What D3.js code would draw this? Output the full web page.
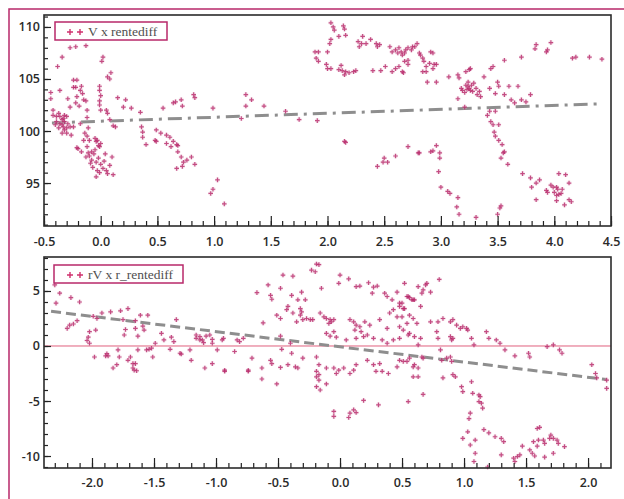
<!DOCTYPE html>
<html>
<head>
<meta charset="utf-8">
<script src="https://cdn.jsdelivr.net/npm/d3@7"></script>
<style>
  body { margin: 0; background: #fff; }
  svg { display: block; }
</style>
</head>
<body>
<svg id="chart" width="624" height="499"></svg>
<script>
// top panel: V x rentediff
var topPts = [
  [-0.27,108.0],[-0.22,108.1],[-0.13,108.2],[-0.34,107.1],[-0.38,106.2],[-0.44,103.7],[-0.44,103.1],[-0.36,103.9],[-0.42,102.0],
  [-0.42,101.5],[-0.39,101.4],[-0.37,101.7],[-0.36,101.4],[-0.34,101.1],[-0.33,101.2],[-0.32,101.5],[-0.30,101.4],[-0.39,100.9],
  [-0.36,100.7],[-0.34,100.6],[-0.33,100.4],[-0.32,100.1],[-0.30,100.3],[-0.29,100.7],[-0.27,100.4],[-0.37,100.3],[-0.30,99.8],
  [-0.26,99.6],[-0.34,99.8],[-0.32,100.9],[-0.40,100.6],
  [-0.24,104.9],[-0.21,104.9],[-0.24,104.2],[-0.17,104.3],[-0.16,103.6],[-0.21,103.3],[-0.29,103.1],[-0.27,102.3],[-0.19,102.4],
  [-0.13,102.9],[-0.12,102.0],[-0.12,101.3],[-0.22,104.2],[-0.18,103.9],[-0.15,103.0],[-0.22,102.7],
  [-0.24,100.4],[-0.18,100.7],[-0.14,99.8],[-0.12,99.5],[-0.11,100.3],[-0.10,99.1],[-0.05,99.3],[-0.04,99.0],[-0.01,98.5],[-0.15,99.1],
  [0.02,107.1],[0.01,106.7],[0.06,105.2],[0.09,105.6],[0.08,105.0],[-0.01,104.3],[-0.01,103.9],[-0.01,102.9],[0.0,103.4],[-0.01,102.5],[0.0,102.0],
  [0.11,100.5],[0.13,100.4],[0.05,102.0],[0.06,101.7],[0.08,101.1],[0.15,103.2],[0.22,103.0],[0.20,102.3],[0.27,102.2],[0.35,101.8],
  [-0.20,98.3],[-0.17,98.0],[-0.11,97.9],[-0.08,97.2],[-0.06,97.8],[-0.04,97.0],[-0.07,96.5],[-0.02,97.4],[-0.05,98.2],[0.0,96.8],
  [-0.10,97.6],[-0.09,96.9],[0.03,97.1],[0.05,96.2],[0.06,95.9],[-0.03,96.2],[-0.01,96.0],[-0.04,95.6],[0.02,96.4],[0.08,96.7],
  [0.11,95.8],[0.10,97.5],[0.0,98.8],[-0.03,99.1],[-0.21,98.4],[-0.12,98.5],[-0.02,98.6],[-0.08,98.0],[-0.13,97.5],[0.04,97.8],
  [0.36,100.4],[0.37,99.9],[0.37,99.4],[0.49,100.1],[0.48,99.1],[0.53,99.8],[0.58,99.6],[0.61,99.4],[0.64,99.0],[0.68,98.6],
  [0.55,102.2],[0.64,102.7],[0.66,102.8],[0.71,103.0],[0.72,102.4],[0.82,103.5],[0.83,103.2],[0.99,102.2],[0.40,98.7],[0.49,99.0],
  [0.58,98.8],[0.62,98.5],[0.67,98.7],[0.68,98.0],[0.71,97.5],[0.73,97.0],[0.72,96.6],[0.67,96.4],[0.76,97.2],[0.80,97.5],[0.83,96.8],
  [1.03,95.3],[0.99,94.4],[0.97,94.0],[1.09,93.0],
  [1.28,103.5],[1.33,103.0],[1.28,102.4],[1.44,102.4],[1.24,101.2],[1.63,101.9],[1.75,101.1],[1.91,101.0],[2.16,98.9],
  [2.03,110.4],[2.05,110.0],[2.14,110.1],[2.15,109.8],[2.06,109.7],[2.10,109.1],[2.16,109.2],[2.02,108.4],[2.03,108.8],[2.00,107.6],
  [1.89,107.6],[1.92,107.6],[1.90,107.0],[1.92,106.7],[1.99,106.4],[2.00,106.0],[2.03,106.0],[2.12,106.3],[2.10,105.9],[2.13,105.8],
  [2.16,105.7],[2.15,105.4],[2.19,105.6],[2.23,105.7],[2.25,105.8],[2.40,105.8],[2.47,105.8],[2.51,106.2],[2.57,105.7],[2.60,106.0],
  [2.63,106.2],[2.67,105.6],
  [2.27,108.6],[2.28,108.1],[2.31,109.1],[2.30,108.4],[2.34,108.4],[2.38,108.8],[2.43,108.4],[2.44,108.1],[2.46,108.3],[2.55,108.1],
  [2.57,107.6],[2.60,107.8],[2.62,107.5],[2.63,108.0],[2.65,107.6],[2.66,107.3],[2.69,107.8],[2.71,106.8],[2.75,108.1],[2.79,108.4],[2.81,107.5],
  [2.68,107.5],[2.71,108.0],[2.74,107.8],[2.77,108.1],[2.68,106.7],[2.71,106.4],[2.66,105.7],[2.82,107.3],[2.84,107.0],[2.85,106.7],
  [2.87,106.2],[2.84,105.7],[2.87,105.7],[2.91,107.6],[2.93,107.5],[2.90,106.5],[2.94,106.4],[2.93,106.0],[2.96,106.4],[2.88,104.7],[2.96,104.7],
  [3.07,105.2],[3.15,105.4],[3.16,105.1],[3.22,105.7],[3.25,105.9],[3.26,106.0],[3.18,104.1],[3.19,103.9],[3.22,104.4],[3.24,104.3],
  [3.25,104.1],[3.26,103.9],[3.29,104.6],[3.31,104.1],[3.34,103.8],[3.35,103.3],[3.32,103.5],[3.38,105.2],[3.44,106.0],[3.43,104.1],
  [3.50,104.7],[3.51,104.3],[3.48,103.6],[3.56,103.5],[3.60,104.3],[3.68,104.3],[3.62,103.0],[3.65,102.7],[3.71,103.0],[3.75,102.8],
  [3.79,103.5],[3.15,103.1],[3.21,102.3],[3.41,101.5],[3.43,101.9],[3.48,101.9],[3.44,100.9],[3.46,100.6],[3.51,100.6],[3.47,99.9],
  [3.48,99.5],[3.51,99.1],[3.54,98.7],[3.23,104.0],[3.27,104.4],[3.21,103.7],[3.28,103.8],[3.24,104.7],
  [3.56,106.8],[3.71,107.1],[3.84,108.3],[3.83,107.9],[3.94,107.8],[3.97,108.5],[3.93,107.6],[4.16,107.0],[4.19,107.1],[4.31,107.1],
  [4.42,106.9],[3.46,106.2],
  [2.71,98.5],[2.81,97.9],[2.91,98.0],[2.93,98.1],[2.96,98.6],[2.99,97.9],[2.99,97.4],[2.98,96.1],[3.00,94.6],[3.06,94.2],[3.08,94.0],
  [3.15,93.6],[3.14,92.7],[3.16,92.0],[3.31,91.7],[3.50,92.0],[3.52,92.6],[3.53,92.8],[3.55,97.9],[3.56,98.0],[3.53,97.4],[3.59,96.8],
  [3.72,95.9],[3.79,95.5],[3.84,95.0],[3.87,95.3],[3.80,94.6],[3.84,93.4],
  [3.93,94.3],[3.94,94.1],[3.97,94.8],[3.99,94.6],[4.02,94.6],[4.03,94.4],[4.00,94.1],[4.02,93.8],[4.04,93.9],[4.06,94.0],[4.07,94.4],
  [4.02,93.3],[4.09,92.9],[4.13,93.4],[4.15,93.2],[4.04,95.9],[4.10,95.8],[4.13,95.0],
  [2.44,96.6],[2.49,97.0],[2.50,97.4],[2.53,97.0],[2.60,97.6],[2.80,97.9],[2.15,99.0]
];
var topFit = [[-0.43,100.78],[4.38,102.6]];

// bottom panel: rV x r_rentediff
var botPts = [
  [-2.30,5.55],[-2.29,3.9],[-2.26,4.8],[-2.17,4.4],[-2.10,4.0],[-2.20,1.6],[-2.18,1.9],[-2.15,2.0],[-2.12,2.3],[-2.04,0.5],
  [-2.03,0.8],[-2.02,1.3],[-2.02,0.25],[-1.98,-1.0],[-1.97,1.45],[-1.99,2.7],[-1.96,2.5],[-1.92,3.0],[-1.85,3.1],[-1.88,-0.7],
  [-1.89,-0.9],[-1.87,-0.9],[-1.83,-2.0],[-1.80,-1.7],[-1.79,-0.35],[-1.78,-1.0],[-1.77,3.2],[-1.71,3.4],[-1.75,2.4],[-1.73,1.5],
  [-1.74,1.0],[-1.71,-1.3],[-1.69,-1.0],[-1.67,-1.6],[-1.65,-1.6],[-1.67,-2.0],[-1.64,-2.25],[-1.66,-2.2],[-1.65,2.3],[-1.65,1.6],
  [-1.63,0.9],[-1.63,-0.35],[-1.61,2.8],[-1.59,1.8],[-1.58,1.45],[-1.56,-0.35],[-1.54,-0.3],[-1.52,-0.2],[-1.51,-1.0],[-1.55,2.8],
  [-1.49,0.25],[-1.44,1.15],[-1.42,0.55],[-1.37,-0.3],[-1.36,0.8],[-1.34,0.4],[-1.32,2.4],[-1.29,-0.66],[-1.28,-0.73],[-1.21,-0.35],
  [-1.20,-1.3],[-1.16,1.0],[-1.16,0.7],[-1.13,0.55],[-1.11,0.55],[-1.08,0.9],[-1.03,0.6],[-1.10,0.3],[-1.03,0.25],[-1.09,-2.0],
  [-1.13,0.85],[-1.05,1.0],[-0.95,0.55],[-0.94,0.7],[-0.83,0.55],[-0.81,0.4],[-0.78,0.7],[-0.62,2.1],[-0.48,0.9],[-0.47,-0.3],[-0.40,0.25],
  [-1.03,-1.6],[-0.99,-0.35],[-0.93,-2.2],[-0.85,-0.5],[-0.74,-2.2],[-0.71,-1.1],[-0.63,-2.0],[-0.56,-1.3],[-0.55,-1.6],[-0.48,-1.95],
  [-0.42,-1.7],[-0.39,-0.66],[-0.36,-1.9],[-0.34,-2.0],[-0.30,-1.1],[-0.19,-1.0],[-0.17,-1.7],[-0.17,-2.6],[-0.11,-2.0],[-0.05,-2.0],
  [-0.01,-2.2],[0.03,-2.0],[0.08,-2.5],[0.13,-1.7],[0.22,-1.3],[0.27,-1.7],[0.32,-1.6],[0.34,-2.3],[0.39,-2.5],[0.46,-1.9],[0.48,-1.3],
  [0.54,-1.4],[0.59,-1.9],
  [-0.19,-2.3],[-0.19,-2.8],[-0.17,-3.1],[-0.19,-3.7],[-0.16,-4.0],[-0.11,-3.45],[-0.03,-2.5],[0.11,-2.2],[-0.05,-5.95],[-0.05,-6.4],
  [0.08,-6.1],[0.07,-6.5],[0.11,-5.8],[0.13,-6.05],[0.19,-4.95],[0.31,-5.35],[0.55,-5.05],[0.29,-2.3],[-0.63,-3.0],[-0.51,-3.45],
  [-0.74,-2.3],[-0.93,-2.3],
  [-0.19,7.45],[-0.17,7.4],[-0.23,6.9],[-0.20,6.75],[-0.46,6.45],[-0.38,6.35],[-0.58,5.55],[-0.56,4.6],[-0.55,4.25],[-0.67,4.85],
  [-0.48,5.25],[-0.39,4.6],[-0.31,4.9],[-0.28,4.2],[-0.34,4.2],[-0.15,5.25],[0.0,6.45],[-0.01,5.7],[0.07,6.1],[0.16,5.45],[0.13,5.4],
  [0.23,5.75],[0.27,5.35],[0.30,5.45],[0.26,4.8],[0.36,4.8],[0.38,4.5],[0.46,4.9],[0.52,5.7],[0.56,4.4],[0.59,4.2],[0.42,4.2],[0.48,3.9],
  [-0.42,3.6],[-0.43,3.3],[-0.38,3.0],[-0.32,3.4],[-0.32,2.8],[-0.31,3.1],[-0.27,2.5],[-0.24,2.4],[-0.22,2.4],[-0.30,2.4],[-0.35,2.2],
  [-0.48,2.5],[-0.51,2.8],
  [-0.16,3.0],[-0.13,2.65],[-0.11,2.5],[-0.08,2.4],[-0.07,2.2],[-0.05,2.4],[-0.09,2.05],[-0.11,1.15],[-0.08,0.9],[-0.05,1.3],[-0.03,0.8],
  [0.08,2.4],[0.11,2.2],[0.13,1.9],[0.16,1.75],[0.12,1.45],[0.17,1.3],[0.20,2.2],[0.24,1.9],[0.22,1.0],[0.19,0.85],[0.13,0.7],
  [0.05,0.55],[0.27,0.7],[0.34,0.55],[0.38,0.25],[0.43,0.55],[0.48,0.7],[0.56,1.15],[0.62,2.05],[0.54,2.05],[0.48,1.75],[0.38,1.6],
  [0.32,2.4],[0.43,3.3],[0.40,3.0],[0.46,2.65],[0.51,3.4],[0.56,2.8],[0.59,2.5],[0.48,3.6],[0.54,4.5],
  [0.63,5.4],[0.66,4.8],[0.67,5.1],[0.69,5.55],[0.70,5.7],[0.73,4.9],[0.80,6.05],[0.50,3.9],[0.52,3.4],[0.55,4.5],[0.58,4.2],
  [0.60,4.2],[0.65,3.6],
  [0.50,2.65],[0.51,1.45],[0.55,1.0],[0.60,0.85],[0.65,0.7],[0.63,0.1],[0.73,2.2],[0.79,2.2],[0.83,2.5],[0.89,2.2],[0.91,2.4],
  [0.94,1.9],[0.97,1.6],[0.99,1.75],[1.02,1.6],[1.03,1.45],[0.78,1.3],[0.79,0.7],[0.89,0.85],[0.90,0.55],[0.91,0.7],[1.06,0.7],
  [1.08,0.1],[1.18,1.3],[1.20,0.7],[1.26,0.55],[1.29,0.25],[1.33,-0.35],[1.41,-0.9],[1.52,-0.66],[1.53,-1.0],[1.67,-0.06],[1.72,0.1],
  [1.77,-0.35],[1.79,-0.66],[2.03,-1.7],[2.06,-2.5],[2.15,-3.1],
  [0.51,-1.4],[0.56,-1.1],[0.60,-1.7],[0.63,-2.0],[0.66,-1.0],[0.67,-1.1],[0.81,-0.35],[0.82,-1.3],[0.86,-1.1],[0.89,-1.0],
  [0.90,-1.4],[0.91,-2.6],[0.93,-2.8],[0.59,-2.8],[0.63,-2.8],[0.83,-2.9],
  [0.67,-4.4],[0.98,-3.7],[0.99,-4.15],[1.06,-3.25],[1.07,-4.3],[1.12,-4.45],[1.13,-4.6],[1.12,-5.05],[1.14,-5.2],[1.15,-5.65],
  [1.05,-6.1],[1.04,-6.6],[1.16,-7.6],[1.20,-7.9],[1.25,-8.25],[1.30,-8.4],[1.32,-8.7],[1.30,-9.9],[0.99,-8.4],[1.03,-7.8],
  [1.05,-9.0],[1.09,-8.55],[1.09,-9.75],[1.08,-10.5],[1.19,-11.0],[1.40,-10.2],[1.43,-10.05],[1.41,-10.5],[1.45,-9.9],[1.47,-9.1],
  [1.53,-9.45],[1.55,-9.75],[1.57,-10.0],[1.59,-7.5],[1.61,-7.4],[1.56,-8.7],[1.60,-8.55],[1.59,-9.1],[1.64,-8.55],[1.65,-8.85],
  [1.69,-8.4],[1.70,-8.1],[1.72,-8.4],[1.75,-8.55],[1.76,-8.85],[1.72,-9.75],[1.65,-10.1],[1.81,-9.15],[2.07,-2.9],[2.15,-3.85]
];
var botFit = [[-2.33,3.15],[2.15,-3.05]];

var topXTicks = [-0.5,0.0,0.5,1.0,1.5,2.0,2.5,3.0,3.5,4.0,4.5];
var topYTicks = [95,100,105,110];
var botXTicks = [-2.0,-1.5,-1.0,-0.5,0.0,0.5,1.0,1.5,2.0];
var botYTicks = [-10,-5,0,5];
var legends = ["V x rentediff", "rV x r_rentediff"];

var svg = d3.select("#chart");
var pink = "#b8286a";

svg.append("rect").attr("x", 9).attr("y", 9).attr("width", 700).attr("height", 600)
    .attr("fill", "#fff").attr("stroke", pink).attr("stroke-width", 1.5);

function range(a, b, step) {
    var out = [];
    for (var v = a; v <= b + 1e-9; v += step) out.push(Math.round(v * 100) / 100);
    return out;
}

function panel(opt) {
    var g = svg.append("g");
    var x = d3.scaleLinear().domain(opt.xDomain).range([opt.left, opt.right]);
    var y = d3.scaleLinear().domain(opt.yDomain).range([opt.bottom, opt.top]);

    g.append("rect").attr("x", opt.left).attr("y", opt.top)
        .attr("width", opt.right - opt.left).attr("height", opt.bottom - opt.top)
        .attr("fill", "#fff");

    if (opt.zero) {
        g.append("line").attr("x1", opt.left).attr("x2", opt.right)
            .attr("y1", y(0)).attr("y2", y(0))
            .attr("stroke", "#e0607e").attr("stroke-width", 1);
    }

    // fit line
    g.append("path").datum(opt.fit)
        .attr("d", d3.line().x(d => x(d[0])).y(d => y(d[1])))
        .attr("fill", "none").attr("stroke", "#8e8e8e").attr("stroke-width", 3)
        .attr("stroke-dasharray", opt.dash);

    // plus markers, with a faint halo under each
    var s = 2.3;
    var plus = d => {
        var px = x(d[0]), py = y(d[1]);
        return "M" + (px - s) + "," + py + "H" + (px + s) + "M" + px + "," + (py - s) + "V" + (py + s);
    };
    g.append("g").selectAll("path").data(opt.pts).enter().append("path")
        .attr("d", plus).attr("stroke", "#e7b3cb").attr("stroke-width", 3).attr("opacity", 0.35);
    g.append("g").selectAll("path").data(opt.pts).enter().append("path")
        .attr("d", plus).attr("stroke", pink).attr("stroke-width", 1.2).attr("opacity", 0.8);

    // axes
    var xMinor = d3.axisBottom(x).tickValues(opt.xMinor).tickSize(-5).tickFormat("");
    var xMajor = d3.axisBottom(x).tickValues(opt.xTicks).tickSize(-10).tickPadding(opt.xPad)
        .tickFormat(d3.format(".1f"));
    var yMinor = d3.axisLeft(y).tickValues(opt.yMinor).tickSize(-4).tickFormat("");
    var yMajor = d3.axisLeft(y).tickValues(opt.yTicks).tickSize(-7).tickPadding(4)
        .tickFormat(d3.format("d"));

    [xMinor, xMajor].forEach(a => {
        g.append("g").attr("transform", "translate(0," + opt.bottom + ")").call(a);
    });
    [yMinor, yMajor].forEach(a => {
        g.append("g").attr("transform", "translate(" + opt.left + ",0)").call(a);
    });
    g.selectAll(".domain").remove();
    g.selectAll(".tick line").attr("stroke", "#222").attr("stroke-width", 1.2);
    g.selectAll(".tick text").attr("fill", "#2a2a2a")
        .style("font-family", "'Open Sans', sans-serif").style("font-size", "12.5px").style("font-weight", 600);
    g.selectAll(".tick text").text(function() { return this.textContent.replace("\u2212", "-"); });

    g.append("rect").attr("x", opt.left).attr("y", opt.top)
        .attr("width", opt.right - opt.left).attr("height", opt.bottom - opt.top)
        .attr("fill", "none").attr("stroke", "#2b2b2b").attr("stroke-width", 1.6);

    // legend
    var lg = g.append("g");
    lg.append("rect").attr("x", opt.leg[0]).attr("y", opt.leg[1]).attr("width", opt.leg[2]).attr("height", 18)
        .attr("fill", "#fff").attr("stroke", pink).attr("stroke-width", 1.5);
    [70, 80].forEach(cx => {
        var cy = opt.leg[1] + 10;
        lg.append("path").attr("d", "M" + (cx - 3) + "," + cy + "H" + (cx + 3) + "M" + cx + "," + (cy - 3) + "V" + (cy + 3))
            .attr("stroke", "#d0306e").attr("stroke-width", 1.4);
    });
    lg.append("text").attr("x", 88).attr("y", opt.leg[1] + 14)
        .style("font-family", "'Liberation Serif', serif").style("font-size", "13.5px")
        .attr("fill", "#505050").text(opt.label);
}

panel({
    left: 44, right: 611, top: 15, bottom: 226,
    xDomain: [-0.5, 4.5], yDomain: [90.87, 111.15],
    xTicks: topXTicks, yTicks: topYTicks,
    xMinor: range(-0.5, 4.5, 0.1), yMinor: range(91, 111, 1),
    xPad: 11, pts: topPts, fit: topFit, dash: "14,6,3,6",
    zero: false, leg: [55, 22, 112], label: legends[0]
});

panel({
    left: 44, right: 611, top: 257, bottom: 468,
    xDomain: [-2.387, 2.185], yDomain: [-11.09, 8.09],
    xTicks: botXTicks, yTicks: botYTicks,
    xMinor: range(-2.3, 2.1, 0.1), yMinor: range(-11, 8, 1),
    xPad: 10, pts: botPts, fit: botFit, dash: "10,5",
    zero: true, leg: [54, 265, 129], label: legends[1]
});
</script>
</body>
</html>
